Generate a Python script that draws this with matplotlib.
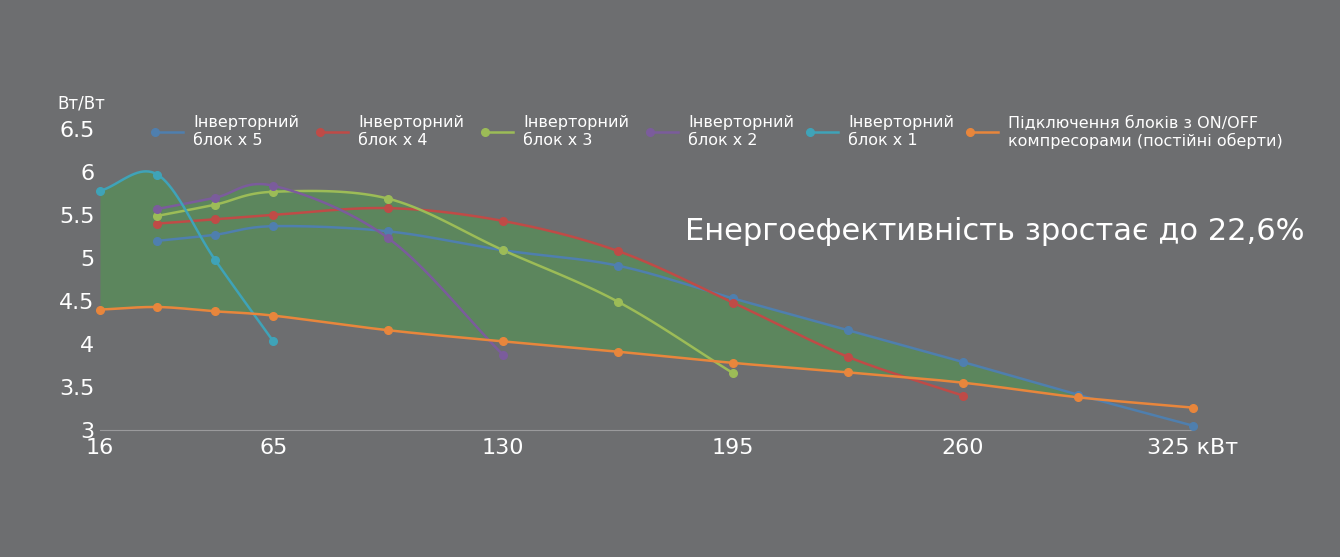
import numpy as np
import matplotlib
matplotlib.use("Agg")
import matplotlib.pyplot as plt
from matplotlib.lines import Line2D

x_all = [16, 32.25, 48.5, 65, 97.5, 130, 162.5, 195, 227.5, 260, 292.5, 325]
onoff = [4.40, 4.43, 4.38, 4.33, 4.16, 4.03, 3.91, 3.78, 3.67, 3.55, 3.38, 3.26]
x5 = [5.20, 5.27, 5.37, 5.31, 5.09, 4.91, 4.53, 4.16, 3.79, 3.41, 3.05]
x4 = [5.40, 5.45, 5.50, 5.58, 5.43, 5.08, 4.48, 3.85, 3.40]
x3 = [5.49, 5.62, 5.77, 5.69, 5.09, 4.49, 3.66]
x2 = [5.57, 5.70, 5.84, 5.23, 3.87]
x1 = [5.78, 5.97, 4.98, 4.03]
xticks = [16, 65, 130, 195, 260, 325]
xticklabels = ["16", "65", "130", "195", "260", "325 кВт"]
yticks = [3, 3.5, 4, 4.5, 5, 5.5, 6, 6.5]
yticklabels = ["3", "3.5", "4", "4.5", "5", "5.5", "6", "6.5"]

series = [
    ("Інверторний\nблок x 5", x_all[1:], x5, "#4f7fae"),
    ("Інверторний\nблок x 4", x_all[1:10], x4, "#bf4b47"),
    ("Інверторний\nблок x 3", x_all[1:8], x3, "#9cbc57"),
    ("Інверторний\nблок x 2", x_all[1:6], x2, "#7b5c9c"),
    ("Інверторний\nблок x 1", [16, 32.25, 48.5, 65], x1, "#3fa3b8"),
    ("Підключення блоків з ON/OFF\nкомпресорами (постійні оберти)", x_all, onoff, "#e8863c"),
]

def smooth(xs, ys, n=20):
    xs = np.asarray(xs, float); ys = np.asarray(ys, float)
    px = np.concatenate([[2*xs[0]-xs[1]], xs, [2*xs[-1]-xs[-2]]])
    py = np.concatenate([[2*ys[0]-ys[1]], ys, [2*ys[-1]-ys[-2]]])
    ox, oy = [], []
    for i in range(1, len(px)-2):
        t = np.linspace(0, 1, n, endpoint=False)
        for arr, out in ((px, ox), (py, oy)):
            p0, p1, p2, p3 = arr[i-1], arr[i], arr[i+1], arr[i+2]
            out.extend(0.5*((2*p1) + (-p0+p2)*t + (2*p0-5*p1+4*p2-p3)*t**2 + (-p0+3*p1-3*p2+p3)*t**3))
    ox.append(xs[-1]); oy.append(ys[-1])
    return np.array(ox), np.array(oy)

bg = "#6d6e70"
fig = plt.figure(figsize=(13.4, 5.57), dpi=100, facecolor=bg)
ax = fig.add_axes([100/1340, 127/557, 1093/1340, 301/557])
ax.set_facecolor(bg)
ax.set_xlim(16, 325); ax.set_ylim(3, 6.5)

grid = np.linspace(16, 325, 600)
curves = []
for _, xs, ys, c in series[:5]:
    sx, sy = smooth(xs, ys)
    curves.append(np.interp(grid, sx, sy, left=np.nan, right=np.nan))
upper = np.nanmax(np.vstack(curves), axis=0)
ox, oy = smooth(x_all, onoff)
lower = np.interp(grid, ox, oy)
ax.fill_between(grid, lower, upper, where=upper >= lower, color="#4f9a4f", alpha=0.55, lw=0)

for label, xs, ys, c in series:
    sx, sy = smooth(xs, ys)
    ax.plot(sx, sy, color=c, lw=1.8, clip_on=False, zorder=3)
    ax.plot(xs, ys, "o", color=c, ms=5.5, clip_on=False, zorder=4)

for s in ["top", "right", "left"]:
    ax.spines[s].set_visible(False)
ax.spines["bottom"].set_color("#9a9a9c")
ax.set_xticks(xticks); ax.set_xticklabels(xticklabels)
ax.set_yticks(yticks); ax.set_yticklabels(yticklabels)
ax.tick_params(length=0, colors="white", labelsize=16, pad=6)
ax.tick_params(axis="y", pad=4)
fig.text(57/1340, 1-103/557, "Вт/Вт", color="white", fontsize=12, va="center")

lx = [155, 320, 485, 650, 810, 970]
for (label, _, _, c), x in zip(series, lx):
    fig.add_artist(Line2D([x/1340, (x+28)/1340], [1-132/557]*2, color=c, lw=1.8, marker="o", ms=5.5, markevery=[0], transform=fig.transFigure))
    fig.text((x+38)/1340, 1-132/557, label, color="white", fontsize=11.5, va="center", linespacing=1.25)

fig.text(685/1340, 1-232/557, "Енергоефективність зростає до 22,6%", color="white", fontsize=22, va="center")
fig.savefig("out.png", dpi=100, facecolor=bg)
